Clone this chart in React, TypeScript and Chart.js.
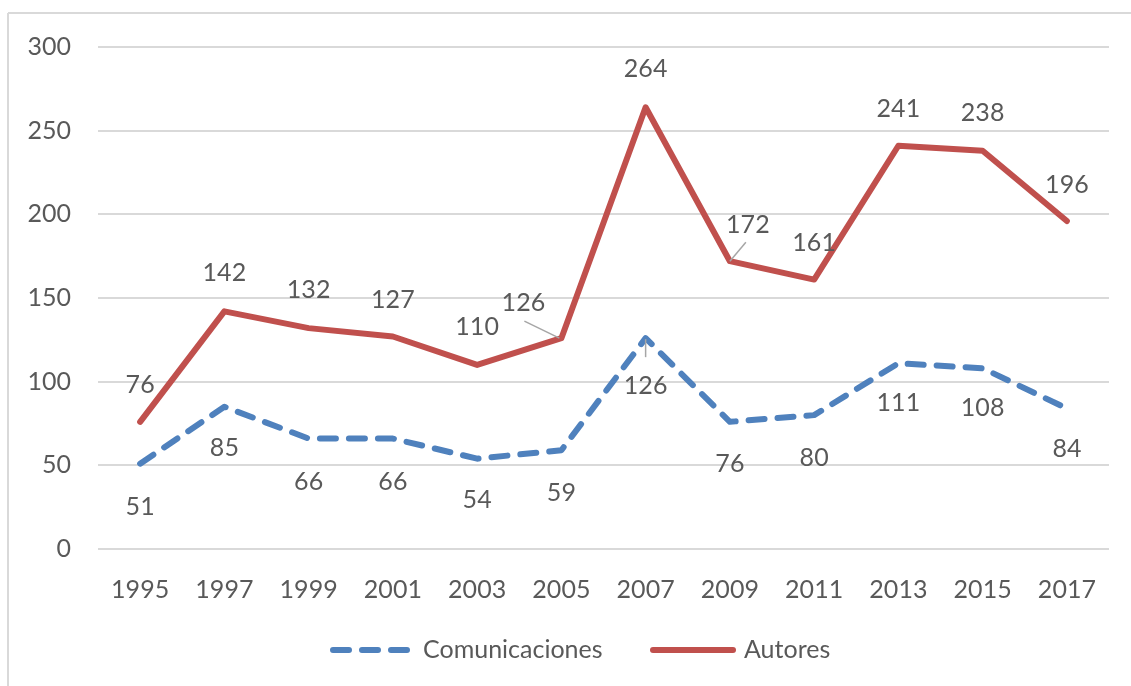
import React, { useEffect, useRef } from "react";
import { Chart, registerables } from "chart.js";

Chart.register(...registerables);

const years = ["1995", "1997", "1999", "2001", "2003", "2005", "2007", "2009", "2011", "2013", "2015", "2017"];
const comunicaciones = [51, 85, 66, 66, 54, 59, 126, 76, 80, 111, 108, 84];
const autores = [76, 142, 132, 127, 110, 126, 264, 172, 161, 241, 238, 196];
const yMin = 0;
const yMax = 300;
const yStep = 50;

const seriesNames = ["Comunicaciones", "Autores"];

// label placement (offset from the point, in px)
const comLabelOffsets = [[0, 43], [0, 41], [0, 43], [0, 43], [0, 41], [0, 43], [0, 48], [0, 42], [0, 43], [0, 40], [0, 40], [0, 40]];
const autLabelOffsets = [[0, -37], [0, -38], [0, -38], [0, -37], [0, -38], [-38, -35], [0, -38], [18, -36], [0, -37], [0, -37], [0, -38], [0, -36]];
// leader lines: [seriesIndex, pointIndex, x1, y1, x2, y2] relative to point
const leaders = [
  [1, 5, -37, -17, -2, 0],
  [1, 7, 16, -19, 0, 0],
  [0, 6, 0, 1, 0, 19],
];
// legend layout: sample start x, sample length, gap to text
const legendItems = [
  [330, 82, 11],
  [650, 86, 8],
];

const FONT = "Lato, 'Open Sans', sans-serif";
const TEXT = "#595959";
const BLUE = "#4F81BD";
const RED = "#C0504D";
const GRID = "#d9d9d9";
const FS = 25;

const frame = {
  id: "frame",
  beforeDraw(chart: any) {
    const ctx = chart.ctx;
    ctx.save();
    ctx.fillStyle = "#ffffff";
    ctx.fillRect(0, 0, chart.width, chart.height);
    ctx.strokeStyle = GRID;
    ctx.lineWidth = 2;
    ctx.beginPath();
    ctx.moveTo(8, 13);
    ctx.lineTo(chart.width, 13);
    ctx.moveTo(8, 13);
    ctx.lineTo(8, chart.height);
    ctx.stroke();
    ctx.restore();
  },
};

const dataLabels = {
  id: "dataLabels",
  afterDatasetsDraw(chart: any) {
    const ctx = chart.ctx;
    ctx.save();
    ctx.strokeStyle = "#a6a6a6";
    ctx.lineWidth = 1.5;
    leaders.forEach(([ds, i, x1, y1, x2, y2]) => {
      const el = chart.getDatasetMeta(ds).data[i];
      ctx.beginPath();
      ctx.moveTo(el.x + x1, el.y + y1);
      ctx.lineTo(el.x + x2, el.y + y2);
      ctx.stroke();
    });
    ctx.font = `${FS}px ${FONT}`;
    ctx.fillStyle = TEXT;
    ctx.textAlign = "center";
    ctx.textBaseline = "middle";
    chart.data.datasets.forEach((ds: any, di: number) => {
      const offs = di === 0 ? comLabelOffsets : autLabelOffsets;
      chart.getDatasetMeta(di).data.forEach((el: any, i: number) => {
        ctx.fillText(String(ds.data[i]), el.x + offs[i][0], el.y + offs[i][1]);
      });
    });
    ctx.restore();
  },
};

const legendPlugin = {
  id: "customLegend",
  afterDraw(chart: any) {
    const ctx = chart.ctx;
    ctx.save();
    ctx.font = `${FS}px ${FONT}`;
    ctx.textBaseline = "middle";
    ctx.textAlign = "left";
    const y = 650;
    chart.data.datasets.forEach((ds: any, di: number) => {
      const [x, len, gap] = legendItems[di];
      ctx.strokeStyle = ds.borderColor;
      ctx.lineWidth = 6;
      ctx.lineCap = "round";
      ctx.setLineDash(ds.borderDash || []);
      ctx.beginPath();
      ctx.moveTo(x + 3, y);
      ctx.lineTo(x + len - 3, y);
      ctx.stroke();
      ctx.setLineDash([]);
      ctx.fillStyle = TEXT;
      ctx.fillText(ds.label, x + len + gap, y);
    });
    ctx.restore();
  },
};

export default function App() {
  const ref = useRef<HTMLCanvasElement>(null);
  useEffect(() => {
    if (!ref.current) return;
    const chart = new Chart(ref.current, {
      type: "line",
      data: {
        labels: years,
        datasets: [
          {
            label: seriesNames[0],
            data: comunicaciones,
            borderColor: BLUE,
            backgroundColor: BLUE,
            borderWidth: 6,
            borderDash: [16, 13],
            borderCapStyle: "round",
            borderJoinStyle: "round",
            pointRadius: 0,
            tension: 0,
          },
          {
            label: seriesNames[1],
            data: autores,
            borderColor: RED,
            backgroundColor: RED,
            borderWidth: 6,
            borderCapStyle: "round",
            borderJoinStyle: "round",
            pointRadius: 0,
            tension: 0,
          },
        ],
      },
      options: {
        responsive: false,
        animation: false,
        devicePixelRatio: 1,
        layout: { padding: { left: 8, right: 22, top: 47, bottom: 77 } },
        plugins: { legend: { display: false }, tooltip: { enabled: false } },
        scales: {
          x: {
            offset: true,
            grid: { display: false },
            border: { display: false },
            ticks: {
              color: TEXT,
              font: { family: FONT, size: FS },
              padding: 18,
              maxRotation: 0,
              autoSkip: false,
            },
            afterFit: (s: any) => {
              s.height = 60;
            },
          },
          y: {
            min: yMin,
            max: yMax,
            grid: { color: GRID, lineWidth: 2, drawTicks: false },
            border: { display: false },
            ticks: {
              stepSize: yStep,
              color: TEXT,
              font: { family: FONT, size: FS },
              padding: 27,
            },
            afterFit: (s: any) => {
              s.width = 90;
            },
          },
        },
      },
      plugins: [frame, dataLabels, legendPlugin],
    });
    return () => chart.destroy();
  }, []);
  return (
    <canvas
      ref={ref}
      width={1131}
      height={686}
      style={{ position: "absolute", left: 0, top: 0, display: "block" }}
    />
  );
}
